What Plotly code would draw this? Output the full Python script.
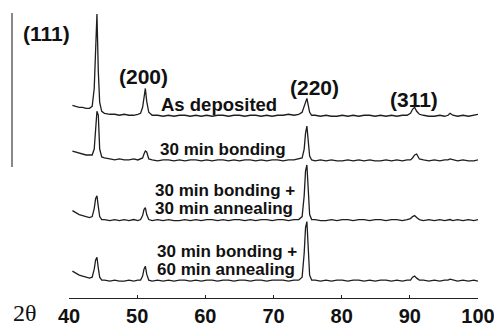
import plotly.graph_objects as go

# 2-theta sampling grid (degrees)
two_theta = [40.5, 41, 41.5, 42, 42.5, 43,
             43.4, 43.7, 43.9, 44.1, 44.3, 44.5, 44.8,
             45.2, 46, 46.7, 47.4, 48.1, 48.8, 49.5, 50.1,
             50.5, 50.8, 51.0, 51.2, 51.4, 51.7,
             52.2, 53, 53.8, 54.6, 55.4, 56.2, 57, 57.8, 58.6, 59.4, 60.2, 61, 61.8, 62.6,
             63.4, 64.2, 65, 65.8, 66.6, 67.4, 68.2, 69, 69.8, 70.6, 71.4, 72.2, 73, 73.7,
             74.2, 74.5, 74.7, 74.9, 75.1, 75.3, 75.6,
             76.1, 76.9, 77.7, 78.5, 79.3, 80.1, 80.9, 81.7, 82.5, 83.3, 84.1, 84.9, 85.7,
             86.5, 87.3, 88.1, 88.9, 89.6,
             90.1, 90.4, 90.7, 91.0, 91.4,
             92, 92.8, 93.6, 94.4, 95.1, 95.6, 95.9, 96.3, 97, 97.8, 98.6, 99.4, 100.0]

# intensities (a.u.) above each pattern's baseline
as_deposited = [11, 10, 9, 9, 8, 8,
                10, 28, 62, 103, 45, 14, 5,
                3, 2, 2, 1, 2, 1, 1, 2,
                3, 9, 20, 28, 15, 4,
                1, 1, 0, 1, 0, 1, 1, 0, 1, 0, 1, 0, 1, 1, 0, 1, 1, 0, 1, 1, 0, 1, 0, 1, 1, 2, 1, 2,
                4, 11, 16, 18, 11, 4, 1,
                1, 0, 1, 0, 0, 1, 0, 1, 0, 1, 1, 0, 1, 0, 1, 0, 1, 1,
                3, 7, 9, 5, 2,
                1, 0, 0, 1, 0, 1, 3, 1, 0, 1, 0, 1, 2]
bonding_30 = [10, 9, 8, 7, 6, 6,
              6, 12, 28, 50, 46, 12, 4,
              3, 2, 1, 2, 1, 1, 2, 1,
              2, 3, 7, 10, 9, 2,
              1, 0, 1, 1, 0, 1, 0, 1, 1, 0, 1, 0, 1, 1, 0, 1, 0, 1, 1, 0, 1, 0, 1, 1, 0, 1, 1, 2,
              3, 12, 28, 35, 20, 5, 1,
              0, 1, 0, 1, 0, 0, 1, 0, 1, 0, 1, 0, 0, 1, 0, 1, 0, 1,
              1, 3, 6, 7, 2,
              1, 0, 1, 0, 1, 1, 2, 1, 0, 1, 0, 0, 1]
anneal_30 = [10, 8, 6, 5, 4, 3,
             4, 12, 22, 25, 14, 4, 1,
             1, 0, 1, 0, 1, 0, 1, 0,
             1, 5, 11, 13, 6, 1,
             0, 1, 0, 1, 0, 0, 1, 0, 1, 0, 1, 1, 0, 1, 0, 1, 1, 0, 1, 0, 1, 1, 0, 1, 1, 0, 1, 1,
             4, 25, 50, 56, 30, 6, 1,
             1, 0, 0, 1, 0, 1, 1, 0, 1, 1, 0, 1, 1, 0, 1, 1, 0, 1,
             2, 4, 5, 3, 1,
             0, 1, 0, 1, 0, 1, 1, 0, 1, 0, 1, 0, 1]
anneal_60 = [10, 8, 6, 5, 4, 3,
             4, 12, 21, 24, 13, 4, 1,
             1, 0, 1, 0, 0, 1, 0, 1,
             1, 5, 12, 15, 7, 1,
             0, 1, 0, 1, 0, 1, 1, 0, 1, 0, 1, 1, 0, 1, 1, 0, 1, 1, 0, 1, 1, 0, 1, 1, 1, 0, 1, 1,
             4, 28, 54, 60, 32, 6, 1,
             1, 0, 1, 0, 1, 1, 0, 1, 1, 0, 1, 0, 1, 1, 0, 1, 0, 1,
             1, 4, 5, 3, 1,
             1, 0, 1, 0, 1, 1, 2, 1, 0, 1, 0, 1, 0]

series = [as_deposited, bonding_30, anneal_30, anneal_60]
series_names = [["As deposited"], ["30 min bonding"],
                ["30 min bonding +", "30 min annealing"],
                ["30 min bonding +", "60 min annealing"]]
stack_offsets = [183, 138, 78, 17]

peak_labels = ["(111)", "(200)", "(220)", "(311)"]
x_ticks = [40, 50, 60, 70, 80, 90, 100]

for s in series:
    assert len(s) == len(two_theta), len(s)

fig = go.Figure()
for vals, off, name in zip(series, stack_offsets, series_names):
    fig.add_trace(go.Scatter(x=two_theta, y=[v + off for v in vals], mode="lines",
                             line=dict(color="#1e1e1e", width=1.3), name=" ".join(name),
                             showlegend=False, cliponaxis=False))

# The page body adds an 8px offset; figure is 494x319 so it fits the 502x327 window.
# Page geometry: plot area spans page px 69..478 horizontally, axis line at page y 300.
def px(x):
    return (x - 69) / 409.0

def py(y):
    return (300 - y) / 292.0

bold = dict(family="Liberation Sans, Arial, sans-serif", color="#111", weight="bold")
peak_pos = [(46, 34), (143, 77), (314, 88), (414, 100)]
for lab, (xx, yy) in zip(peak_labels, peak_pos):
    fig.add_annotation(text=lab, xref="paper", yref="paper", x=px(xx), y=py(yy),
                       showarrow=False, xanchor="center", yanchor="middle",
                       font=dict(size=21, **bold))

# (left px, first-line centre px, line step px, font size)
name_pos = [(159, 105, 0, 18.5), (158, 150, 0, 17), (153, 192, 18, 17), (155, 253, 18, 17)]
for lines, (xx, yy, step, fs) in zip(series_names, name_pos):
    for i, line in enumerate(lines):
        fig.add_annotation(text=line, xref="paper", yref="paper", x=px(xx), y=py(yy + i * step),
                           showarrow=False, xanchor="left", yanchor="middle", align="left",
                           font=dict(size=fs, **bold))

fig.add_annotation(text="2θ", xref="paper", yref="paper", x=px(25), y=py(315),
                   showarrow=False, xanchor="center", yanchor="middle",
                   font=dict(size=24, family="Liberation Serif, Times New Roman, serif", color="#111"))

fig.add_shape(type="line", xref="paper", yref="paper", x0=px(12), x1=px(12),
              y0=py(13), y1=py(168), line=dict(color="#888", width=2))

fig.update_xaxes(range=[40, 100], tickvals=x_ticks, ticks="inside", ticklen=3,
                 tickcolor="#222", showline=True, linecolor="#222", linewidth=1,
                 showgrid=False, zeroline=False,
                 tickfont=dict(size=20, **bold))
fig.update_yaxes(range=[0, 292], visible=False, showgrid=False, zeroline=False)
fig.update_layout(width=494, height=319, margin=dict(l=61, r=24, t=0, b=27),
                  plot_bgcolor="white", paper_bgcolor="white")

fig.write_html("out.html")
